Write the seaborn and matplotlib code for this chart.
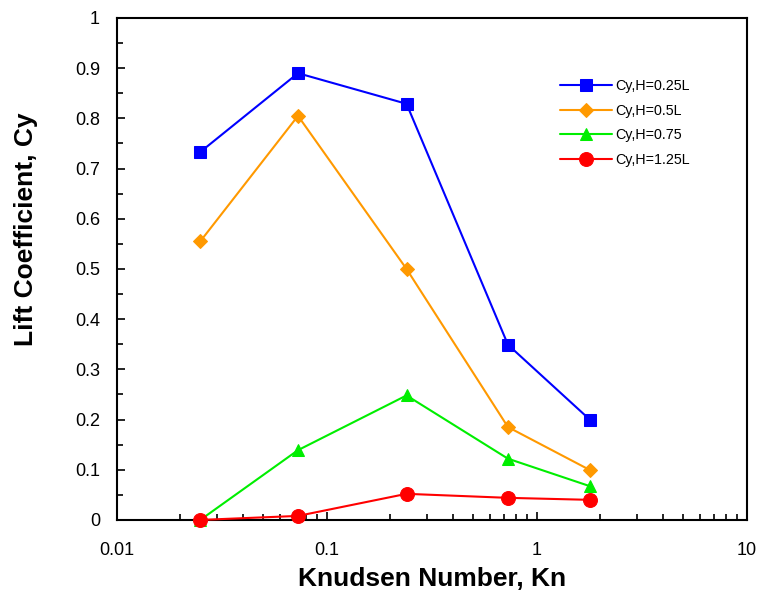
import numpy as np
import pandas as pd
import matplotlib
matplotlib.use("Agg")
import matplotlib.pyplot as plt
from matplotlib.ticker import MultipleLocator, LogLocator, NullFormatter, FixedLocator, FixedFormatter
import seaborn as sns

# data
kn = [0.025, 0.073, 0.24, 0.73, 1.8]
cy_h025 = [0.733, 0.890, 0.829, 0.349, 0.199]
cy_h05 = [0.555, 0.805, 0.500, 0.185, 0.099]
cy_h075 = [0.0, 0.139, 0.248, 0.122, 0.067]
cy_h125 = [0.0, 0.008, 0.052, 0.044, 0.040]
names = ['Cy,H=0.25L', 'Cy,H=0.5L', 'Cy,H=0.75', 'Cy,H=1.25L']
yticklabels = ['0', '0.1', '0.2', '0.3', '0.4', '0.5', '0.6', '0.7', '0.8', '0.9', '1']

sns.set_style("white")
plt.rcParams['font.family'] = ['Liberation Sans', 'DejaVu Sans']
plt.rcParams['text.color'] = 'black'
plt.rcParams['axes.labelcolor'] = 'black'
plt.rcParams['xtick.color'] = 'black'
plt.rcParams['ytick.color'] = 'black'

fig = plt.figure(figsize=(7.58, 5.99), dpi=100)
ax = fig.add_axes([0.154, 0.132, 0.831, 0.838])

series = [cy_h025, cy_h05, cy_h075, cy_h125]
colors = ['#0000ff', '#ff9900', '#00ee00', '#ff0000']
markers = ['s', 'D', '^', 'o']
msizes = [9, 7, 9, 10]
for vals, nm, c, m, ms in zip(series, names, colors, markers, msizes):
    df = pd.DataFrame({'Kn': kn, 'Cy': vals})
    sns.lineplot(data=df, x='Kn', y='Cy', ax=ax, color=c, marker=m, markersize=ms,
                 markeredgecolor=c, linewidth=1.5, label=nm, clip_on=False, zorder=3)

ax.set_xscale('log')
ax.set_xlim(0.01, 10)
ax.set_ylim(0, 1)
ax.xaxis.set_major_locator(FixedLocator([0.01, 0.1, 1, 10]))
ax.xaxis.set_major_formatter(FixedFormatter(['0.01', '0.1', '1', '10']))
ax.xaxis.set_minor_locator(LogLocator(base=10, subs=np.arange(2, 10)))
ax.xaxis.set_minor_formatter(NullFormatter())
ax.set_yticks(np.arange(0, 1.01, 0.1))
ax.set_yticklabels(yticklabels)
ax.yaxis.set_minor_locator(MultipleLocator(0.05))

ax.tick_params(which='both', direction='in', bottom=True, left=True, top=False, right=False,
               labelsize=13, width=1.2, colors='black')
ax.tick_params(axis='x', which='major', length=6, pad=16)
ax.tick_params(axis='y', which='major', length=6, pad=12)
ax.tick_params(which='minor', length=4)
for s in ax.spines.values():
    s.set_linewidth(1.5)
    s.set_color('black')

ax.set_xlabel('Knudsen Number, Kn', fontsize=19, fontweight='bold', labelpad=6)
ax.set_ylabel('Lift Coefficient, Cy', fontsize=19, fontweight='bold')
ax.yaxis.set_label_coords(-0.125, 0.58)

leg = ax.legend(loc='upper left', bbox_to_anchor=(0.684, 0.904), frameon=False, fontsize=10.3,
                handlelength=3.6, labelspacing=0.75, handletextpad=0.25)

fig.savefig('out.png', dpi=100)
